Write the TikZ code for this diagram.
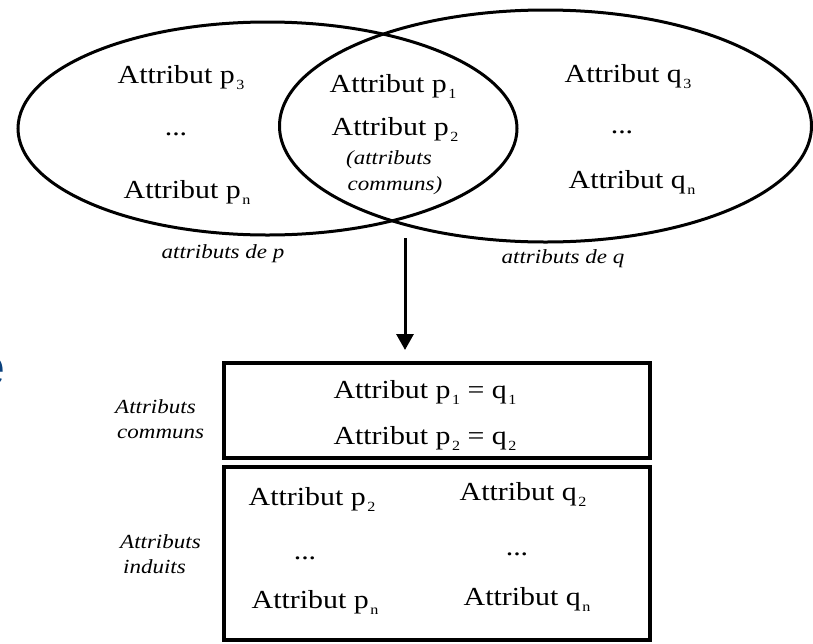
\documentclass[tikz,border=0pt]{standalone}
\usepackage{fontspec}
\setmainfont{Liberation Serif}[FakeStretch=1.15]
\newfontfamily\titlefont{Liberation Sans}
\usetikzlibrary{arrows.meta}
\definecolor{titleblue}{RGB}{10,65,125}
\newcommand\sbs[1]{\kern1.5pt\raisebox{-6.5pt}{\fontsize{14}{14}\selectfont #1}}
\tikzset{
  attr/.style={inner sep=0pt, anchor=base, font=\fontsize{26}{30}\selectfont},
  note/.style={inner sep=0pt, anchor=base, font=\fontsize{20}{24}\selectfont\itshape},
  sidelabel/.style={inner sep=0pt, anchor=base west, font=\fontsize{20}{24}\selectfont\itshape},
  setline/.style={line width=3pt},
  boxline/.style={draw, line width=3.5pt, inner sep=0pt},
  flow/.style={line width=3pt, -{Triangle[length=16pt,width=17pt]}}
}
\begin{document}
\begin{tikzpicture}[x=1pt,y=-1pt]
\useasboundingbox (0,0) rectangle (813,643);
\clip (0,0) rectangle (813,643);
\fill[white] (0,0) rectangle (813,643);
% partial title letter
\node[inner sep=0pt, anchor=base east, text=titleblue, font=\fontsize{54}{60}\selectfont\titlefont] (title) at (6,385) {e};
% sets
\draw[setline] (267.5,128.5) ellipse [x radius=249.5, y radius=106.5];
\draw[setline] (545.5,126) ellipse [x radius=266, y radius=116];
% left set
\node[attr] (p3) at (181,83) {Attribut p\sbs{3}};
\node[attr] (pdots) at (176,135) {...};
\node[attr] (pn) at (187,198) {Attribut p\sbs{n}};
% common
\node[attr] (p1) at (393,92) {Attribut p\sbs{1}};
\node[attr] (p2) at (395,135) {Attribut p\sbs{2}};
\node[note] (cm1) at (389,164) {(attributs};
\node[note] (cm2) at (395,190) {communs)};
% right set
\node[attr] (q3) at (628,82) {Attribut q\sbs{3}};
\node[attr] (qdots) at (622,133) {...};
\node[attr] (qn) at (632,188) {Attribut q\sbs{n}};
% set labels
\node[note] (lp) at (223,258) {attributs de p};
\node[note] (lq) at (563,263) {attributs de q};
% arrow
\coordinate (as) at (405,238);
\coordinate (ae) at (405,350);
\draw[flow] (as) -- (ae);
% boxes
\node[boxline, minimum width=426pt, minimum height=95pt] (box1) at (437,410.5) {};
\node[boxline, minimum width=426pt, minimum height=173pt] (box2) at (437,553.5) {};
\node[attr] (c1) at (425,398) {Attribut p\sbs{1} = q\sbs{1}};
\node[attr] (c2) at (425,444) {Attribut p\sbs{2} = q\sbs{2}};
\node[attr] (i1) at (312,505) {Attribut p\sbs{2}};
\node[attr] (i2) at (523,500) {Attribut q\sbs{2}};
\node[attr] (i3) at (305,559) {...};
\node[attr] (i4) at (517,555) {...};
\node[attr] (i5) at (315,608) {Attribut p\sbs{n}};
\node[attr] (i6) at (527,605) {Attribut q\sbs{n}};
% side labels
\node[sidelabel] (sc1) at (115,413) {Attributs};
\node[sidelabel] (sc2) at (117,438) {communs};
\node[sidelabel] (si1) at (120,548) {Attributs};
\node[sidelabel] (si2) at (123,573) {induits};
\end{tikzpicture}
\end{document}
